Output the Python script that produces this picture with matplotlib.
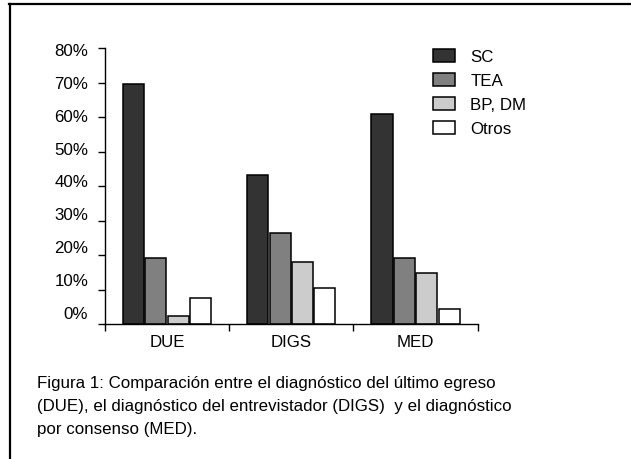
import matplotlib
matplotlib.use('Agg')
import matplotlib.pyplot as plt
import numpy as np
from matplotlib.patches import Patch
from matplotlib.lines import Line2D

plt.rcParams['font.family'] = ['Liberation Sans', 'DejaVu Sans']

# data (percent)
groups = ['DUE', 'DIGS', 'MED']
series = ['SC', 'TEA', 'BP, DM', 'Otros']
sc = [69.5, 43.2, 60.9]
tea = [19.0, 26.3, 19.0]
bp_dm = [2.2, 18.0, 14.7]
otros = [7.4, 10.4, 4.3]
colors = ['#333333', '#808080', '#cccccc', '#ffffff']
y_ticks = [0, 10, 20, 30, 40, 50, 60, 70, 80]
y_labels = [f'{v}%' for v in y_ticks]
caption = ('Figura 1: Comparación entre el diagnóstico del último egreso\n'
           '(DUE), el diagnóstico del entrevistador (DIGS)  y el diagnóstico\n'
           'por consenso (MED).')

W, H = 631, 460
fig = plt.figure(figsize=(W / 100, H / 100), dpi=100)
rect = [105 / W, 135 / H, 372.7 / W, 276 / H]
ax = fig.add_axes(rect)

x = np.arange(len(groups)) + 0.5
step, width = 0.18, 0.17
offsets = (np.arange(len(series)) - 1.5) * step
for vals, off, col in zip([sc, tea, bp_dm, otros], offsets, colors):
    ax.bar(x + off, vals, width, color=col, edgecolor='black', linewidth=1.1)

ax.set_xlim(0, 3)
ax.set_ylim(0, 80)
for s in ['top', 'right']:
    ax.spines[s].set_visible(False)
ax.spines['left'].set_linewidth(1.0)
ax.spines['bottom'].set_linewidth(1.0)

ax.set_xticks([0, 1, 2, 3])
ax.set_xticklabels([])
ax.set_xticks(x, minor=True)
ax.set_xticklabels(groups, minor=True, fontsize=12.2)
ax.tick_params(axis='x', which='major', direction='out', length=5, width=1.0)
ax.tick_params(axis='x', which='minor', length=0, pad=7)
ax.set_yticks(y_ticks)
ax.set_yticklabels([])
ax.tick_params(axis='y', direction='out', length=5, width=1.0)

# y labels sit slightly compressed relative to the ticks in the original
lab = fig.add_axes(rect, frameon=False)
lab.set_ylim(-3.65, 80.3)
lab.set_xticks([])
lab.set_yticks(y_ticks)
lab.set_yticklabels(y_labels, fontsize=12.2)
lab.tick_params(axis='y', length=0, pad=12)
lab.patch.set_visible(False)

handles = [Patch(facecolor=c, edgecolor='black', linewidth=1.1) for c in colors]
fig.legend(handles, series, loc='upper left', bbox_to_anchor=(433 / W, 1 - 50 / H),
           frameon=False, fontsize=12.2, handlelength=1.3, handleheight=0.82,
           handletextpad=0.9, labelspacing=0.5, borderpad=0, borderaxespad=0)

fig.text(37 / W, 1 - 376 / H, caption, fontsize=12.2, va='top', ha='left',
         linespacing=1.65)

# figure frame (only top and left edges visible)
fig.add_artist(Line2D([9 / W, 1], [1 - 5 / H, 1 - 5 / H], color='black', lw=1.6))
fig.add_artist(Line2D([10 / W, 10 / W], [1 - 5 / H, 0], color='black', lw=1.6))

fig.savefig('out.png', dpi=100)
